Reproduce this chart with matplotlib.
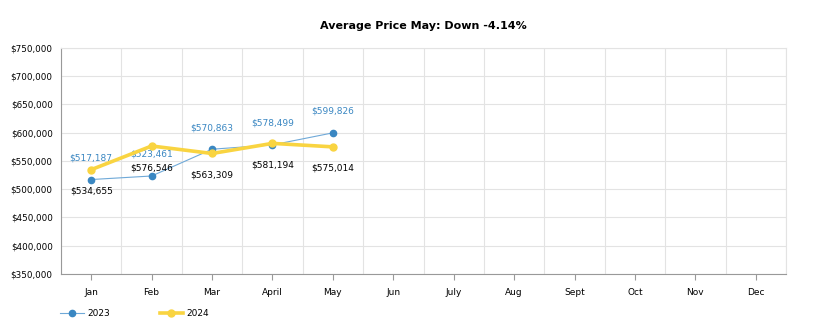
import matplotlib.pyplot as plt

months = ['Jan', 'Feb', 'Mar', 'April', 'May', 'Jun', 'July', 'Aug', 'Sept', 'Oct', 'Nov', 'Dec']
price_2023 = [517187, 523461, 570863, 578499, 599826]
price_2024 = [534655, 576546, 563309, 581194, 575014]

blue = '#3a87c2'
yellow = '#f9d441'

fig = plt.figure(figsize=(8.13, 3.28), dpi=100)
ax = fig.add_axes([61/813, 1-274/328, 725/813, 226/328])

x = list(range(len(price_2023)))
ax.plot(x, price_2023, color='#6fa9d8', lw=0.8, marker='o', ms=4.5,
        mfc=blue, mec=blue, label='2023', zorder=3)
ax.plot(x, price_2024, color=yellow, lw=2.6, marker='o', ms=5,
        mfc=yellow, mec=yellow, label='2024', zorder=4)

# data labels: 2023 above, 2024 below
for i, v in enumerate(price_2023):
    ax.annotate('${:,}'.format(v), (i, v), xytext=(0, 15.5), textcoords='offset points',
                ha='center', va='center', fontsize=6.5, color=blue)
for i, v in enumerate(price_2024):
    ax.annotate('${:,}'.format(v), (i, v), xytext=(0, -15.5), textcoords='offset points',
                ha='center', va='center', fontsize=6.5, color='black')

ax.set_xlim(-0.5, 11.5)
ax.set_ylim(350000, 750000)
ax.set_xticks(range(12))
ax.set_xticklabels(months, fontsize=6.5)
ax.set_xticks([k + 0.5 for k in range(-1, 12)], minor=True)
ax.set_yticks(range(350000, 750001, 50000))
ax.set_yticklabels(['${:,}'.format(v) for v in range(350000, 750001, 50000)], fontsize=6.3)
ax.grid(which='minor', axis='x', color='#e3e3e3', lw=0.8)
ax.grid(which='major', axis='y', color='#e3e3e3', lw=0.8)
ax.tick_params(axis='x', which='major', length=4, color='#999999', pad=6)
ax.tick_params(axis='x', which='minor', length=0)
ax.tick_params(axis='y', length=0, pad=6)
for s in ['top', 'right']:
    ax.spines[s].set_color('#e3e3e3')
for s in ['left', 'bottom']:
    ax.spines[s].set_color('#999999')
ax.set_axisbelow(True)

fig.suptitle('Average Price May: Down -4.14%', x=423/813, y=1-26/328, va='center',
             fontsize=8, fontweight='bold')

fig.legend(loc='center left', bbox_to_anchor=(52/813, 1-314/328), ncol=2, frameon=False,
           fontsize=6.5, handlelength=2.6, columnspacing=5.5, handletextpad=0.4)

fig.savefig('out.png', dpi=100)
